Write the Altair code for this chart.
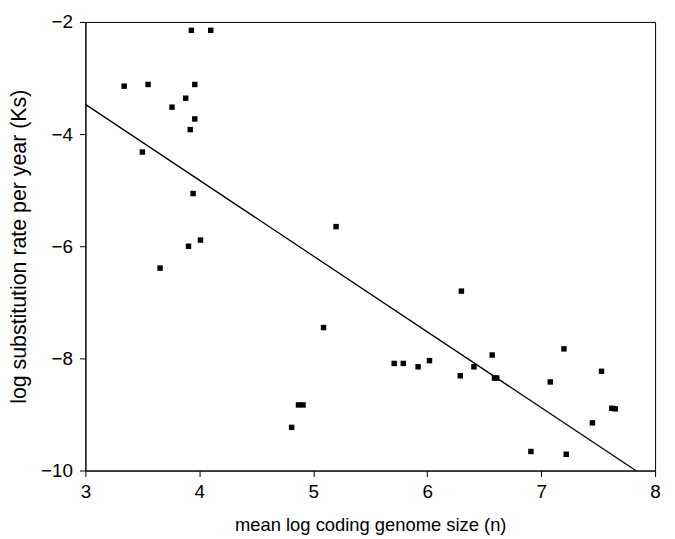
import altair as alt
import pandas as pd

# Data points
genome_size = [3.93, 4.10, 3.34, 3.55, 3.96, 3.88, 3.76, 3.96, 3.92, 3.50,
               3.945, 4.01, 3.905, 3.655, 4.81, 5.20, 6.30, 5.09, 5.71, 5.79,
               5.92, 6.02, 6.29, 6.41, 4.87, 4.91, 6.57, 6.59, 6.61, 7.20,
               7.08, 7.53, 7.62, 7.65, 7.45, 6.91, 7.22]
subst_rate = [-2.15, -2.15, -3.145, -3.115, -3.115, -3.36, -3.52, -3.73, -3.92, -4.32,
              -5.06, -5.89, -6.00, -6.39, -9.23, -5.65, -6.80, -7.45, -8.09, -8.09,
              -8.15, -8.04, -8.31, -8.15, -8.83, -8.83, -7.94, -8.35, -8.35, -7.83,
              -8.42, -8.23, -8.89, -8.90, -9.15, -9.66, -9.71]

# Fitted line endpoints
fit_x = [3.0, 7.83]
fit_y = [-3.47, -10.0]

x_ticks = [3, 4, 5, 6, 7, 8]
y_ticks = [-2, -4, -6, -8, -10]

pts = pd.DataFrame({"x": genome_size, "y": subst_rate})
fit = pd.DataFrame({"x": fit_x, "y": fit_y})

FONT = "Liberation Sans"

xscale = alt.Scale(domain=[3, 8], nice=False, zero=False)
yscale = alt.Scale(domain=[-10, -2], nice=False, zero=False)

xaxis = alt.Axis(values=x_ticks, format="d", grid=False, title="mean log coding genome size (n)",
                 tickSize=6, labelPadding=6, titlePadding=14, domainColor="black",
                 tickColor="black", labelColor="black", titleColor="black",
                 labelFontSize=19, titleFontSize=18.5, labelFont=FONT, titleFont=FONT,
                 titleFontWeight="normal", labelFlush=False)
yaxis = alt.Axis(values=y_ticks, format="d", grid=False, title="log substitution rate per year (Ks)",
                 tickSize=6, labelPadding=7, titlePadding=10, domainColor="black",
                 tickColor="black", labelColor="black", titleColor="black",
                 labelFontSize=19, titleFontSize=21.5, labelFont=FONT, titleFont=FONT,
                 titleFontWeight="normal", labelFlush=False)

points = alt.Chart(pts).mark_point(shape="square", filled=True, color="black",
                                   size=30, opacity=1).encode(
    x=alt.X("x:Q", scale=xscale, axis=xaxis),
    y=alt.Y("y:Q", scale=yscale, axis=yaxis),
)

line = alt.Chart(fit).mark_line(color="black", strokeWidth=1.3).encode(
    x=alt.X("x:Q", scale=xscale),
    y=alt.Y("y:Q", scale=yscale),
)

chart = alt.layer(line, points).properties(
    width=574, height=452,
    autosize=alt.AutoSizeParams(type="none"),
    padding={"left": 78, "top": 12, "right": 12, "bottom": 75},
    background="white",
).configure_view(stroke="black", strokeWidth=1)

chart.save("out.html", embed_options={"renderer": "svg", "actions": False})
